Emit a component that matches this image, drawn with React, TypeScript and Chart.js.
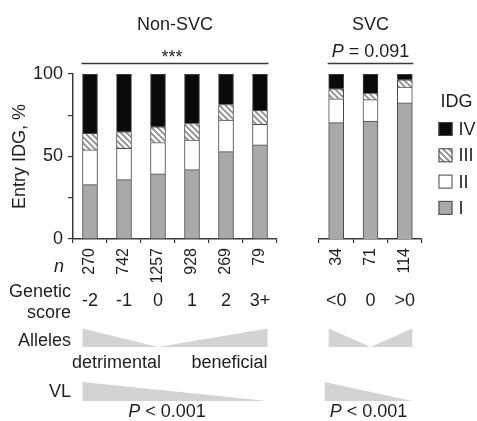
import React, { useEffect, useRef } from 'react';
import { Chart, registerables } from 'chart.js';

Chart.register(...registerables);

// ---------- data ----------
const gradeLabels = ['I', 'II', 'III', 'IV'];
const legendTitle = 'IDG';
const yTitle = 'Entry IDG, %';

const nonSvcTitle = 'Non-SVC';
const nonSvcScores = ['-2', '-1', '0', '1', '2', '3+'];
const nonSvcN = ['270', '742', '1257', '928', '269', '79'];
const nonSvcI = [33, 36, 39.5, 42, 53, 57];
const nonSvcII = [21, 19, 19, 18, 19, 12.5];
const nonSvcIII = [10, 10, 9.5, 10, 9.5, 8.5];
const nonSvcIV = [36, 35, 32, 30, 18.5, 22];
const nonSvcStat = '***';

const svcTitle = 'SVC';
const svcScores = ['<0', '0', '>0'];
const svcN = ['34', '71', '114'];
const svcI = [70.5, 71.5, 82.5];
const svcII = [14.5, 13, 9.5];
const svcIII = [6, 4, 4.5];
const svcIV = [9, 11.5, 3.5];
const svcStat = '= 0.091';

const vlStat = '< 0.001';
const rowLabelN = 'n';
const rowLabelScore = ['Genetic', 'score'];
const rowLabelAlleles = 'Alleles';
const rowLabelVL = 'VL';
const alleleWords = ['detrimental', 'beneficial'];

// ---------- style ----------
const FONT = '"Liberation Sans", Arial, Helvetica, sans-serif';
const TEXT = '#1e1e1e';
const AXIS = '#3a3a3a';
const TRI = '#d3d3d3';
const GRADE_COLORS = ['#a9a9a9', '#ffffff', 'HATCH', '#0a0a0a'];

function makeHatch(): CanvasPattern | string {
  const c = document.createElement('canvas');
  const s = 6;
  c.width = s;
  c.height = s;
  const g = c.getContext('2d');
  if (!g) return '#dddddd';
  g.fillStyle = '#ffffff';
  g.fillRect(0, 0, s, s);
  g.strokeStyle = '#8a8a8a';
  g.lineWidth = 1.6;
  g.beginPath();
  g.moveTo(-1, -1);
  g.lineTo(s + 1, s + 1);
  g.moveTo(-1, s - 1);
  g.lineTo(1, s + 1);
  g.moveTo(s - 1, -1);
  g.lineTo(s + 1, 1);
  g.stroke();
  return g.createPattern(c, 'repeat') || '#dddddd';
}

interface PanelCfg {
  title: string;
  stat: string;
  statP: boolean;
  n: string[];
  pivotLabel: string;
  sideLabels: boolean;
  words: boolean;
  legend: boolean;
  vlShift: number;
  pShift: number;
}

function drawP(ctx: CanvasRenderingContext2D, rest: string, cx: number, y: number) {
  const it = `italic 18px ${FONT}`;
  const nm = `18px ${FONT}`;
  ctx.font = it;
  const wP = ctx.measureText('P').width;
  ctx.font = nm;
  const txt = ' ' + rest;
  const wR = ctx.measureText(txt).width;
  const start = cx - (wP + wR) / 2;
  ctx.textAlign = 'left';
  ctx.textBaseline = 'alphabetic';
  ctx.font = it;
  ctx.fillText('P', start, y);
  ctx.font = nm;
  ctx.fillText(txt, start + wP, y);
}

function panelPlugin(cfg: PanelCfg) {
  return {
    id: 'panelAnnot',
    afterDraw(chart: any) {
      const ctx: CanvasRenderingContext2D = chart.ctx;
      const area = chart.chartArea;
      const bars = chart.getDatasetMeta(0).data as any[];
      const first = bars[0];
      const last = bars[bars.length - 1];
      const x0 = first.x - first.width / 2;
      const x1 = last.x + last.width / 2;
      const cx = (area.left + area.right) / 2;
      const labels = chart.data.labels as string[];
      const pivot = bars[labels.indexOf(cfg.pivotLabel)].x;

      ctx.save();
      ctx.fillStyle = TEXT;

      // panel title
      ctx.font = `18px ${FONT}`;
      ctx.textAlign = 'center';
      ctx.textBaseline = 'alphabetic';
      ctx.fillText(cfg.title, cx, 30);

      // stat
      if (cfg.statP) {
        drawP(ctx, cfg.stat, cx, 57);
      } else {
        ctx.font = `18px ${FONT}`;
        ctx.textAlign = 'center';
        ctx.fillText(cfg.stat, cx - 3, 63);
      }

      // bracket line
      ctx.strokeStyle = AXIS;
      ctx.lineWidth = 1.5;
      ctx.beginPath();
      ctx.moveTo(x0 - 1, 63.5);
      ctx.lineTo(x1 + 1, 63.5);
      ctx.stroke();

      // n labels (rotated)
      ctx.font = `16px ${FONT}`;
      bars.forEach((b, i) => {
        ctx.save();
        ctx.translate(b.x, 248);
        ctx.rotate(-Math.PI / 2);
        ctx.textAlign = 'right';
        ctx.textBaseline = 'middle';
        ctx.fillText(cfg.n[i], 0, 0);
        ctx.restore();
      });

      // row labels on the left
      if (cfg.sideLabels) {
        const rx = area.left - 2;
        ctx.textAlign = 'right';
        ctx.textBaseline = 'alphabetic';
        ctx.font = `italic 18px ${FONT}`;
        ctx.fillText(rowLabelN, rx - 7, 272);
        ctx.font = `18px ${FONT}`;
        ctx.fillText(rowLabelScore[0], rx, 297);
        ctx.fillText(rowLabelScore[1], rx, 318);
        ctx.fillText(rowLabelAlleles, rx, 346);
        ctx.fillText(rowLabelVL, rx, 397);
      }

      // alleles triangles
      ctx.fillStyle = TRI;
      ctx.beginPath();
      ctx.moveTo(x0, 328.5);
      ctx.lineTo(x0, 347);
      ctx.lineTo(pivot, 347);
      ctx.closePath();
      ctx.fill();
      ctx.beginPath();
      ctx.moveTo(pivot, 347);
      ctx.lineTo(x1, 328.5);
      ctx.lineTo(x1, 347);
      ctx.closePath();
      ctx.fill();

      // VL triangle
      ctx.beginPath();
      ctx.moveTo(x0 + cfg.vlShift, 382);
      ctx.lineTo(x0 + cfg.vlShift, 401);
      ctx.lineTo(x1, 401);
      ctx.closePath();
      ctx.fill();

      ctx.fillStyle = TEXT;
      if (cfg.words) {
        ctx.font = `18px ${FONT}`;
        ctx.textBaseline = 'alphabetic';
        ctx.textAlign = 'left';
        ctx.fillText(alleleWords[0], area.left - 1, 368);
        ctx.textAlign = 'right';
        ctx.fillText(alleleWords[1], x1, 368);
      }

      drawP(ctx, vlStat, (x0 + cfg.vlShift + x1) / 2 + cfg.pShift, 416.5);

      // legend
      if (cfg.legend) {
        const lx = area.right + 16.5;
        ctx.font = `18px ${FONT}`;
        ctx.textAlign = 'center';
        ctx.textBaseline = 'alphabetic';
        ctx.fillText(legendTitle, lx + 18, 106.5);
        const ds = [...chart.data.datasets].reverse();
        ds.forEach((d: any, k: number) => {
          const cy = 129 + k * 26.3;
          ctx.fillStyle = d.backgroundColor;
          ctx.fillRect(lx, cy - 7, 14, 14);
          ctx.strokeStyle = '#444';
          ctx.lineWidth = 1;
          ctx.strokeRect(lx + 0.5, cy - 6.5, 13, 13);
          ctx.fillStyle = TEXT;
          ctx.textAlign = 'left';
          ctx.textBaseline = 'middle';
          ctx.fillText(d.label, lx + 20, cy + 1);
        });
      }
      ctx.restore();
    },
  };
}

function makeDatasets(series: number[][], hatch: CanvasPattern | string) {
  return series.map((data, i) => ({
    label: gradeLabels[i],
    data,
    backgroundColor: GRADE_COLORS[i] === 'HATCH' ? hatch : GRADE_COLORS[i],
    borderColor: '#4a4a4a',
    borderWidth: 1,
    barThickness: 15,
  }));
}

function makeOptions(showY: boolean, padding: any): any {
  return {
    responsive: false,
    animation: false,
    events: [],
    layout: { padding },
    plugins: { legend: { display: false }, tooltip: { enabled: false }, title: { display: false } },
    scales: {
      x: {
        type: 'category',
        stacked: true,
        offset: true,
        grid: {
          display: true,
          offset: true,
          drawOnChartArea: false,
          drawTicks: true,
          tickLength: 4,
          color: AXIS,
          lineWidth: 1.2,
        },
        border: { display: true, color: AXIS, width: 1.5 },
        ticks: {
          font: { family: FONT, size: 18 },
          color: TEXT,
          padding: 47,
          maxRotation: 0,
          minRotation: 0,
          autoSkip: false,
        },
        afterFit: (s: any) => {
          s.height = 182;
        },
      },
      y: {
        display: showY,
        stacked: true,
        min: 0,
        max: 100,
        grid: {
          display: true,
          drawOnChartArea: false,
          drawTicks: true,
          tickLength: 5,
          color: AXIS,
          lineWidth: 1.2,
        },
        border: { display: true, color: AXIS, width: 1.5 },
        ticks: {
          stepSize: 25,
          font: { family: FONT, size: 18 },
          color: TEXT,
          padding: 5,
          callback: (v: number) => (v % 50 === 0 ? String(v) : ''),
        },
        title: {
          display: true,
          text: yTitle,
          font: { family: FONT, size: 18 },
          color: TEXT,
          padding: { top: 9, bottom: 0 },
        },
        afterFit: (s: any) => {
          s.width = showY ? 73 : 0;
        },
      },
    },
  };
}

export default function App() {
  const refA = useRef<HTMLCanvasElement>(null);
  const refB = useRef<HTMLCanvasElement>(null);

  useEffect(() => {
    const hatch = makeHatch();
    const a = new Chart(refA.current as HTMLCanvasElement, {
      type: 'bar',
      data: {
        labels: nonSvcScores,
        datasets: makeDatasets([nonSvcI, nonSvcII, nonSvcIII, nonSvcIV], hatch) as any,
      },
      options: makeOptions(true, { top: 74, right: 200, bottom: 0, left: 0 }),
      plugins: [
        panelPlugin({
          title: nonSvcTitle,
          stat: nonSvcStat,
          statP: false,
          n: nonSvcN,
          pivotLabel: '0',
          sideLabels: true,
          words: true,
          legend: false,
          vlShift: 0,
          pShift: -8,
        }),
      ],
    });
    const b = new Chart(refB.current as HTMLCanvasElement, {
      type: 'bar',
      data: {
        labels: svcScores,
        datasets: makeDatasets([svcI, svcII, svcIII, svcIV], hatch) as any,
      },
      options: makeOptions(false, { top: 74, right: 55, bottom: 0, left: 319 }),
      plugins: [
        panelPlugin({
          title: svcTitle,
          stat: svcStat,
          statP: true,
          n: svcN,
          pivotLabel: '0',
          sideLabels: false,
          words: false,
          legend: true,
          vlShift: -4,
          pShift: 0,
        }),
      ],
    });
    return () => {
      a.destroy();
      b.destroy();
    };
  }, []);

  return (
    <div style={{ position: 'absolute', left: 0, top: 0, width: 477, height: 421, background: '#ffffff' }}>
      <canvas ref={refA} width={477} height={421} style={{ position: 'absolute', left: 0, top: 0 }} />
      <canvas ref={refB} width={477} height={421} style={{ position: 'absolute', left: 0, top: 0 }} />
    </div>
  );
}
